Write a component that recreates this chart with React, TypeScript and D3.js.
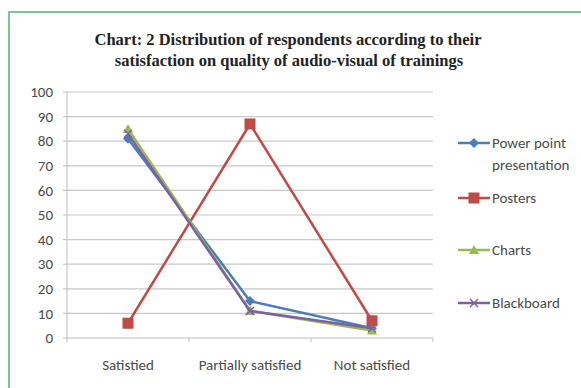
import React from "react";
import * as d3 from "d3";

const categories = ["Satistied", "Partially satisfied", "Not satisfied"];
const seriesNames = ["Power point presentation", "Posters", "Charts", "Blackboard"];
const powerPoint = [81, 15, 4];
const posters = [6, 87, 7];
const charts = [85, 11, 3];
const blackboard = [83, 11, 4];
const yTicks = [0, 10, 20, 30, 40, 50, 60, 70, 80, 90, 100];

const colors = ["#4a7ebb", "#be4b48", "#98b954", "#7d60a0"];
const markers = ["diamond", "square", "triangle", "x"];

const W = 581;
const H = 388;
const plot = { left: 67, right: 433, top: 92, bottom: 338 };
const axisFont = "Carlito, Calibri, Lato, 'Open Sans', sans-serif";
const titleFont = "'Liberation Serif', 'Times New Roman', serif";

function Marker({ kind, x, y, color }: { kind: string; x: number; y: number; color: string }) {
  if (kind === "diamond") {
    const s = 5;
    return <path d={`M${x},${y - s}L${x + s},${y}L${x},${y + s}L${x - s},${y}Z`} fill={color} />;
  }
  if (kind === "square") {
    const s = 5.5;
    return <rect x={x - s} y={y - s} width={s * 2} height={s * 2} fill={color} />;
  }
  if (kind === "triangle") {
    const s = 5;
    return <path d={`M${x},${y - s}L${x + s},${y + s * 0.8}L${x - s},${y + s * 0.8}Z`} fill={color} />;
  }
  const s = 4;
  return (
    <path
      d={`M${x - s},${y - s}L${x + s},${y + s}M${x - s},${y + s}L${x + s},${y - s}`}
      stroke={color}
      strokeWidth={1.5}
      fill="none"
    />
  );
}

export default function App() {
  const data = [powerPoint, posters, charts, blackboard];
  const x = d3.scaleBand<string>().domain(categories).range([plot.left, plot.right]).padding(0);
  const y = d3.scaleLinear().domain([0, 100]).range([plot.bottom, plot.top]);
  const cx = (i: number) => (x(categories[i]) as number) + x.bandwidth() / 2;
  const line = d3
    .line<number>()
    .x((_, i) => cx(i))
    .y((v) => y(v));

  const legendY = [143, 198, 250, 303];
  const legendX = 458;

  return (
    <svg width={W} height={H} style={{ position: "absolute", left: 0, top: 0 }}>
      <rect x={0} y={0} width={W} height={H} fill="#ffffff" />
      <rect x={9} y={12} width={W + 20} height={H + 20} fill="none" stroke="#7cc49c" strokeWidth={2} />

      <text x={288} y={45} textAnchor="middle" fontFamily={titleFont} fontWeight="bold" fontSize={16.5} fill="#222">
        Chart: 2 Distribution of respondents according to their
      </text>
      <text x={289} y={66} textAnchor="middle" fontFamily={titleFont} fontWeight="bold" fontSize={16.5} fill="#222">
        satisfaction on quality of audio-visual of trainings
      </text>

      {yTicks.map((t) => (
        <g key={t}>
          {t > 0 && (
            <line x1={plot.left} x2={plot.right} y1={y(t)} y2={y(t)} stroke="#c8c8c8" strokeWidth={1.2} />
          )}
          <line x1={plot.left - 4} x2={plot.left} y1={y(t)} y2={y(t)} stroke="#bdbdbd" />
          <text
            x={plot.left - 14}
            y={y(t)}
            dy="0.35em"
            textAnchor="end"
            fontFamily={axisFont}
            fontSize={15}
            fill="#4a4a4a"
          >
            {t}
          </text>
        </g>
      ))}

      <line x1={plot.left} x2={plot.left} y1={plot.top} y2={plot.bottom} stroke="#bdbdbd" />
      <line x1={plot.left} x2={plot.right} y1={plot.bottom} y2={plot.bottom} stroke="#bdbdbd" strokeWidth={1.2} />
      {[...categories.map((c) => x(c) as number), plot.right].map((v, i) => (
        <line key={i} x1={v} x2={v} y1={plot.bottom} y2={plot.bottom + 4} stroke="#bdbdbd" />
      ))}
      {categories.map((c, i) => (
        <text key={c} x={cx(i)} y={370} textAnchor="middle" fontFamily={axisFont} fontSize={15} fill="#4a4a4a">
          {c}
        </text>
      ))}

      {data.map((vals, si) => (
        <g key={seriesNames[si]}>
          <path d={line(vals) || ""} fill="none" stroke={colors[si]} strokeWidth={2.5} strokeLinejoin="round" />
          {vals.map((v, i) => (
            <Marker key={i} kind={markers[si]} x={cx(i)} y={y(v)} color={colors[si]} />
          ))}
        </g>
      ))}

      {seriesNames.map((name, si) => {
        const ly = legendY[si];
        const words = si === 0 ? ["Power point", "presentation"] : [name];
        return (
          <g key={name}>
            <line x1={legendX} x2={legendX + 32} y1={ly} y2={ly} stroke={colors[si]} strokeWidth={2.5} />
            <Marker kind={markers[si]} x={legendX + 16} y={ly} color={colors[si]} />
            {words.map((w, wi) => (
              <text
                key={w}
                x={legendX + 34}
                y={ly + wi * 22}
                dy="0.35em"
                fontFamily={axisFont}
                fontSize={15}
                fill="#4a4a4a"
              >
                {w}
              </text>
            ))}
          </g>
        );
      })}
    </svg>
  );
}
